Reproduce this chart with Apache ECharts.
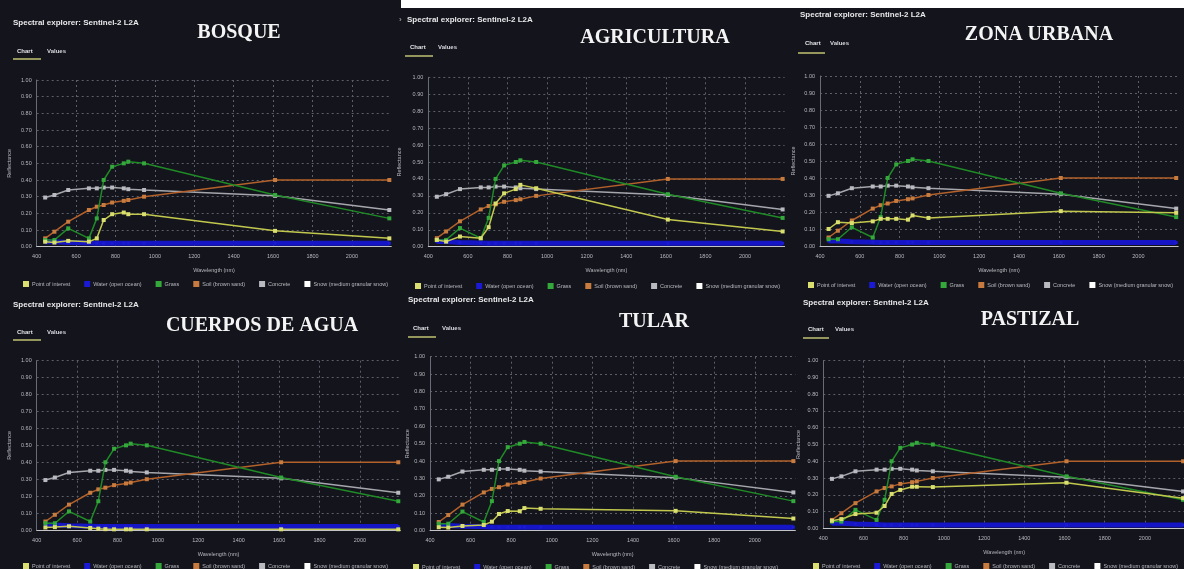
<!DOCTYPE html>
<html>
<head>
<meta charset="utf-8">
<script src="https://cdn.jsdelivr.net/npm/echarts@6/dist/echarts.min.js"></script>
<style>
  html, body { margin: 0; padding: 0; background: #13141c; }
  #chart { width: 1184px; height: 569px; }
</style>
</head>
<body>
<div id="chart"></div>
<script>
// Sentinel-2 band centre wavelengths (nm): B1 B2 B3 B4 B5 B6 B7 B8 B8A B9 B11 B12
const wavelengths = [443, 490, 560, 665, 705, 740, 783, 842, 865, 945, 1610, 2190];

// Reference library spectra (same in every panel)
const waterOcean   = [0.03, 0.03, 0.025, 0.022, 0.02, 0.02, 0.02, 0.02, 0.02, 0.02, 0.02, 0.02];
const grass        = [0.04, 0.04, 0.11, 0.05, 0.17, 0.40, 0.48, 0.50, 0.51, 0.50, 0.31, 0.17];
const soilSand     = [0.05, 0.09, 0.15, 0.22, 0.24, 0.25, 0.265, 0.275, 0.28, 0.30, 0.40, 0.40];
const concrete     = [0.295, 0.31, 0.34, 0.35, 0.35, 0.355, 0.355, 0.35, 0.345, 0.34, 0.305, 0.22];
const snowGranular = [];

// Point-of-interest spectrum for each land cover
const poiBosque      = [0.03, 0.025, 0.035, 0.03, 0.05, 0.16, 0.195, 0.205, 0.195, 0.195, 0.095, 0.05];
const poiAgricultura = [0.04, 0.03, 0.06, 0.05, 0.115, 0.255, 0.315, 0.34, 0.365, 0.345, 0.16, 0.09];
const poiZonaUrbana  = [0.10, 0.14, 0.135, 0.145, 0.16, 0.16, 0.16, 0.155, 0.18, 0.165, 0.205, 0.195];
const poiCuerpos     = [0.015, 0.017, 0.022, 0.012, 0.008, 0.005, 0.004, 0.004, 0.004, 0.004, 0.004, 0.004];
const poiTular       = [0.02, 0.018, 0.027, 0.033, 0.052, 0.096, 0.113, 0.112, 0.13, 0.126, 0.114, 0.07];
const poiPastizal    = [0.045, 0.055, 0.085, 0.093, 0.133, 0.205, 0.229, 0.248, 0.248, 0.246, 0.272, 0.18];

const panelTitles = ['BOSQUE', 'AGRICULTURA', 'ZONA URBANA', 'CUERPOS DE AGUA', 'TULAR', 'PASTIZAL'];
const poiByPanel = [poiBosque, poiAgricultura, poiZonaUrbana, poiCuerpos, poiTular, poiPastizal];

const legendNames = ['Point of interest', 'Water (open ocean)', 'Grass', 'Soil (brown sand)', 'Concrete', 'Snow (medium granular snow)'];
const headerText = 'Spectral explorer: Sentinel-2 L2A';
const tabLabels = ['Chart', 'Values'];
const xAxisName = 'Wavelength (nm)';
const yAxisName = 'Reflectance';

// Panel geometry (px): plot box, header, tabs, big title, legend, y-name gap
const layout = [
  { gx: 36.7,  gy: 80,    gw: 354.6, gh: 166.7, se: [13, 23],   tab: [17, 51],   val: [47, 51],   ul: [13, 41, 59],    tt: [239, 33],   lg: [23, 281],  yg: 24 },
  { gx: 428.3, gy: 77.3,  gw: 356.3, gh: 169.4, se: [407, 20],  tab: [410, 47],  val: [438, 47],  ul: [405, 433, 56],  tt: [655, 38],   lg: [415, 283], yg: 26 },
  { gx: 820,   gy: 76,    gw: 358.2, gh: 170,   se: [800, 15],  tab: [805, 43],  val: [830, 43],  ul: [798, 825, 53],  tt: [1039, 35],  lg: [808, 282], yg: 24 },
  { gx: 36.7,  gy: 360.7, gw: 363.6, gh: 169.3, se: [13, 305],  tab: [17, 332],  val: [47, 332],  ul: [13, 41, 340],   tt: [262, 326],  lg: [23, 563],  yg: 24 },
  { gx: 430,   gy: 356.7, gw: 365.4, gh: 174,   se: [408, 300], tab: [413, 328], val: [442, 328], ul: [408, 436, 337],  tt: [654, 322],  lg: [413, 564], yg: 16 },
  { gx: 823.3, gy: 360.7, gw: 361.8, gh: 167.6, se: [803, 303], tab: [808, 329], val: [835, 329], ul: [803, 829, 338],  tt: [1030, 320], lg: [813, 563], yg: 22 }
];

const styles = {
  'Point of interest':            { line: '#c2c84e', mark: '#dadf70', width: 1.5, z: 6 },
  'Water (open ocean)':           { line: '#1515c6', mark: '#1a1ad4', width: 5,   z: 2 },
  'Grass':                        { line: '#1f8a26', mark: '#35a83c', width: 1.5, z: 5 },
  'Soil (brown sand)':            { line: '#b3612b', mark: '#c87b3e', width: 1.5, z: 4 },
  'Concrete':                     { line: '#a6a6ad', mark: '#b9b9c0', width: 1.5, z: 3 },
  'Snow (medium granular snow)':  { line: '#ffffff', mark: '#ffffff', width: 1.5, z: 3 }
};

const pairs = vals => vals.map((v, i) => [wavelengths[i], v]);

const grids = [], xAxes = [], yAxes = [], series = [], legends = [], graphics = [];
const labelColor = '#b9b9bf';
const splitColor = '#5c5e68';

layout.forEach((p, k) => {
  grids.push({ left: p.gx, top: p.gy, width: p.gw, height: p.gh, containLabel: false, outerBoundsMode: 'none' });
  xAxes.push({
    type: 'value', gridIndex: k, min: 400, max: 2200, interval: 200,
    name: xAxisName, nameLocation: 'middle', nameGap: 21,
    nameTextStyle: { color: labelColor, fontSize: 5.5, fontFamily: 'Liberation Sans' },
    axisLine: { show: true, lineStyle: { color: '#c4c4c8', width: 1 } },
    axisTick: { show: false },
    axisLabel: { color: labelColor, fontSize: 5.5, fontFamily: 'Liberation Sans', margin: 7, showMaxLabel: false, formatter: v => String(v) },
    splitLine: { show: true, showMaxLine: false, lineStyle: { color: splitColor, type: [2, 3], width: 1 } }
  });
  yAxes.push({
    type: 'value', gridIndex: k, min: 0, max: 1, interval: 0.1,
    name: yAxisName, nameLocation: 'middle', nameGap: p.yg,
    nameTextStyle: { color: labelColor, fontSize: 5.5, fontFamily: 'Liberation Sans' },
    axisLine: { show: true, lineStyle: { color: '#6a6c75', width: 1 } },
    axisTick: { show: false },
    axisLabel: { color: labelColor, fontSize: 5.5, fontFamily: 'Liberation Sans', margin: 5, formatter: v => v.toFixed(2) },
    splitLine: { show: true, showMinLine: false, lineStyle: { color: splitColor, type: [2, 3], width: 1 } }
  });

  const dataByName = {
    'Point of interest': poiByPanel[k],
    'Water (open ocean)': waterOcean,
    'Grass': grass,
    'Soil (brown sand)': soilSand,
    'Concrete': concrete,
    'Snow (medium granular snow)': snowGranular
  };
  legendNames.forEach(name => {
    const s = styles[name];
    series.push({
      type: 'line', name, xAxisIndex: k, yAxisIndex: k, z: s.z,
      data: pairs(dataByName[name]),
      symbol: 'rect', symbolSize: name === 'Water (open ocean)' ? 3 : 4, showSymbol: true,
      lineStyle: { color: s.line, width: s.width },
      itemStyle: { color: s.mark },
      emphasis: { disabled: true },
      animation: false
    });
  });

  legends.push({
    data: legendNames, left: p.lg[0], top: p.lg[1], orient: 'horizontal',
    icon: 'rect', itemWidth: 6, itemHeight: 6, itemGap: 14, padding: 0,
    textStyle: { color: labelColor, fontSize: 5.5, fontFamily: 'Liberation Sans', padding: [0, 0, 0, -2] },
    selectedMode: false
  });

  // header, tabs and land-cover title
  graphics.push(
    { type: 'text', style: { x: p.se[0], y: p.se[1], text: headerText, font: 'bold 8px "Liberation Sans"', fill: '#e8e8ea', verticalAlign: 'middle' } },
    { type: 'text', style: { x: p.tab[0], y: p.tab[1], text: tabLabels[0], font: 'bold 6px "Liberation Sans"', fill: '#e4e4e8', verticalAlign: 'middle' } },
    { type: 'text', style: { x: p.val[0], y: p.val[1], text: tabLabels[1], font: 'bold 6px "Liberation Sans"', fill: '#d8d8de', verticalAlign: 'middle' } },
    { type: 'line', shape: { x1: p.ul[0], y1: p.ul[2], x2: p.ul[1], y2: p.ul[2] }, style: { stroke: '#b8b86c', lineWidth: 1.6 } },
    { type: 'text', style: { x: p.tt[0], y: p.tt[1], text: panelTitles[k], font: 'bold 20px "Liberation Serif"', fill: '#f4f4f4', align: 'center', verticalAlign: 'middle' } }
  );
});

// white strip along the top of the upper-right screenshots and the collapse arrow
graphics.unshift({ type: 'rect', shape: { x: 401, y: 0, width: 783, height: 8 }, style: { fill: '#ffffff' }, z: 100 });
graphics.push({ type: 'text', style: { x: 399, y: 20, text: '›', font: '8px "Liberation Sans"', fill: '#bbbbbb', verticalAlign: 'middle' } });

const chart = echarts.init(document.getElementById('chart'), null, { renderer: 'canvas' });
chart.setOption({
  backgroundColor: '#13141c',
  animation: false,
  grid: grids,
  xAxis: xAxes,
  yAxis: yAxes,
  legend: legends,
  series: series,
  graphic: graphics
});
</script>
</body>
</html>
